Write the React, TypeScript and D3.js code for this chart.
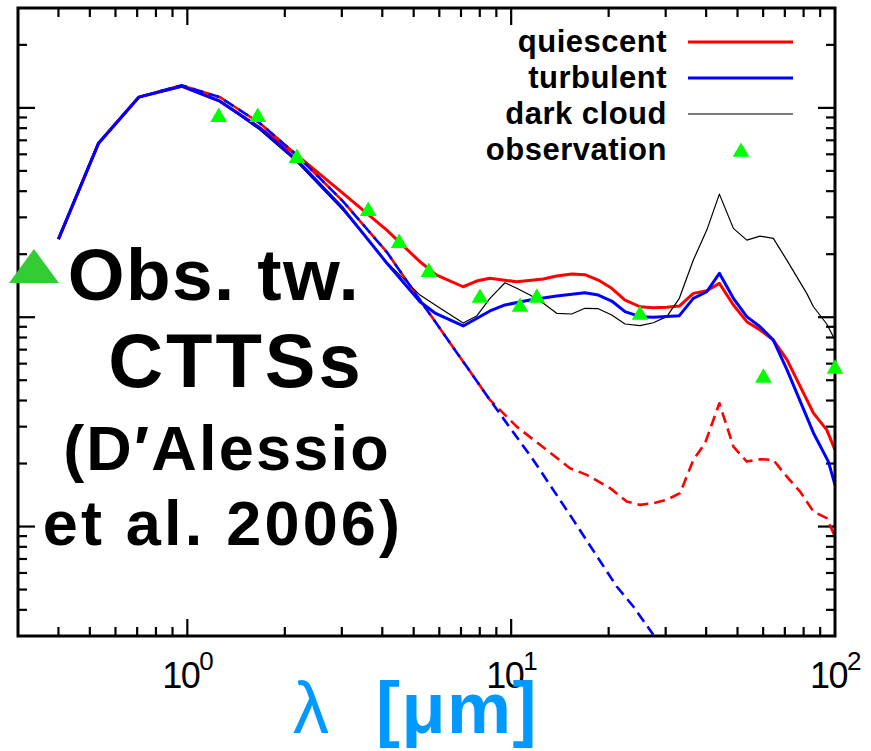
import * as d3 from 'd3';

const width = 871;
const height = 751;

// plot frame (pixels)
const left = 18;
const right = 835;
const top = 8;
const bottom = 636;

// wavelength [micron] and lambda*F_lambda (arbitrary units, major ticks at 0.01, 0.1, 1)
const lamQuiescent = [0.4, 0.532, 0.708, 0.96, 1.26, 1.65, 2.18, 3.02, 4.13, 5.23, 5.89, 7.11, 7.82, 8.6, 10.4, 12.57, 13.82, 15.38, 16.9, 18.58, 20.44, 22.47, 25.0, 27.48, 30.23, 33.06, 36.52, 40.18, 43.95, 48.56, 53.41, 58.7, 64.5, 71.1, 85.8, 94.3, 100];
const fluxQuiescent = [0.2362, 0.6785, 1.125, 1.269, 1.076, 0.818, 0.5944, 0.3916, 0.2607, 0.184, 0.159, 0.1398, 0.1489, 0.1534, 0.1477, 0.1522, 0.1573, 0.1608, 0.1596, 0.1505, 0.1374, 0.1208, 0.1122, 0.111, 0.1115, 0.1131, 0.13, 0.1338, 0.1451, 0.1144, 0.0952, 0.0869, 0.0778, 0.0625, 0.0348, 0.02894, 0.02323];

const lamTurbulent = [0.4, 0.532, 0.708, 0.96, 1.26, 1.675, 2.18, 3.02, 4.13, 5.23, 5.82, 7.11, 8.6, 9.57, 11.43, 13.82, 16.9, 18.58, 20.44, 22.47, 25.0, 27.48, 33.06, 36.52, 40.18, 43.95, 48.56, 53.41, 58.7, 64.5, 71.1, 85.8, 95.4, 100];
const fluxTurbulent = [0.2362, 0.6785, 1.125, 1.269, 1.076, 0.8, 0.5628, 0.332, 0.1814, 0.1186, 0.1047, 0.0908, 0.1071, 0.1144, 0.1208, 0.1262, 0.1309, 0.1276, 0.1195, 0.1063, 0.1006, 0.0999, 0.1017, 0.1231, 0.1323, 0.162, 0.1231, 0.1006, 0.0901, 0.0778, 0.056, 0.028, 0.02043, 0.01581];

const lamDark = [0.4, 0.532, 0.708, 0.96, 1.26, 1.675, 2.18, 3.02, 4.13, 5.23, 5.89, 7.11, 7.82, 8.6, 9.57, 10.4, 11.43, 12.57, 13.82, 15.38, 16.9, 18.58, 20.44, 22.47, 25.0, 27.48, 30.23, 33.06, 36.52, 40.18, 43.95, 48.56, 53.41, 58.7, 64.5, 71.0, 81.8, 85.8, 94.3, 100];
const fluxDark = [0.2362, 0.6785, 1.125, 1.269, 1.076, 0.783, 0.5505, 0.3248, 0.1834, 0.1276, 0.1131, 0.0938, 0.1013, 0.1231, 0.1461, 0.1374, 0.1276, 0.1165, 0.1044, 0.1036, 0.1103, 0.1098, 0.1024, 0.0928, 0.0911, 0.0941, 0.1006, 0.1231, 0.1875, 0.2607, 0.3873, 0.2657, 0.2336, 0.2441, 0.2379, 0.1875, 0.13, 0.1122, 0.0928, 0.0778];

// dashed curves: blue one falls off like a bare photosphere, red one keeps an IR excess
const lamStarDash = [0.4, 0.532, 0.708, 0.96, 1.26, 1.675, 2.18, 3.02, 4.13, 5.23, 8.6, 11.7, 15.55, 21.18, 23.84, 27.48];
const fluxStarDash = [0.2362, 0.6785, 1.125, 1.283, 1.125, 0.845, 0.5944, 0.3587, 0.2048, 0.1208, 0.04025, 0.02081, 0.01076, 0.005171, 0.004149, 0.00304];

const lamQuiescentDash = [0.4, 0.532, 0.708, 0.96, 1.26, 1.675, 2.18, 3.02, 4.13, 5.23, 8.6, 10.4, 15.19, 17.11, 20.2, 22.74, 25.0, 27.48, 30.23, 33.22, 36.52, 39.7, 43.95, 48.56, 53.41, 58.7, 64.5, 71.0, 78.0, 85.8, 94.3, 100];
const fluxQuiescentDash = [0.2362, 0.6785, 1.125, 1.283, 1.125, 0.845, 0.5944, 0.3587, 0.2048, 0.1208, 0.04025, 0.03002, 0.019, 0.01765, 0.01526, 0.01316, 0.01269, 0.01293, 0.01341, 0.01443, 0.02081, 0.02501, 0.03882, 0.02409, 0.02043, 0.02098, 0.02081, 0.01733, 0.01469, 0.01179, 0.01096, 0.00896];

const lamObs = [1.25, 1.65, 2.18, 3.62, 4.51, 5.57, 8.01, 10.65, 12.0, 25.0, 60.1, 100];
const fluxObs = [0.903, 0.903, 0.5753, 0.3212, 0.226, 0.1643, 0.1235, 0.1119, 0.1235, 0.1024, 0.0513, 0.0566];

const legendLabels = ['quiescent', 'turbulent', 'dark cloud', 'observation'];
const xTickLabels = [{ v: 1, exp: '0' }, { v: 10, exp: '1' }, { v: 100, exp: '2' }];
const noteLines = ['Obs. tw.', 'CTTSs', '(D\u2032Alessio', 'et al. 2006)'];

const font = '"Liberation Sans", Arial, Helvetica, sans-serif';

const x = d3.scaleLog().domain([0.3, 100]).range([left, right]);
const y = d3.scaleLog().domain([0.003, 3]).range([bottom, top]);

const toPts = (lam: number[], f: number[]) => lam.map((l, i) => [l, f[i]] as [number, number]);
const line = d3.line<[number, number]>().x(d => x(d[0])).y(d => y(d[1]));

const tri = d3.symbol().type(d3.symbolTriangle).size(120)();

const isMajor = (v: number) => Math.abs(Math.log10(v) - Math.round(Math.log10(v))) < 1e-6;

const App = () => {
  const xt = x.ticks().filter(v => x(v) > left + 1 && x(v) < right - 1);
  const yt = y.ticks().filter(v => y(v) > top + 1 && y(v) < bottom - 1);

  // drawing order: red under black under blue; red dashes sit in the blue gaps where they coincide
  const series = [
    { pts: toPts(lamQuiescentDash, fluxQuiescentDash), color: '#ff0000', w: 2.6, dash: '11,6', off: 8.5 },
    { pts: toPts(lamQuiescent, fluxQuiescent), color: '#ff0000', w: 3, dash: null, off: 0 },
    { pts: toPts(lamDark, fluxDark), color: '#000000', w: 1.2, dash: null, off: 0 },
    { pts: toPts(lamTurbulent, fluxTurbulent), color: '#0000ff', w: 3, dash: null, off: 0 },
    { pts: toPts(lamStarDash, fluxStarDash), color: '#0000ff', w: 2.6, dash: '11,6', off: 0 },
  ];

  const legendStyle = [
    { color: '#ff0000', w: 3 },
    { color: '#0000ff', w: 3 },
    { color: '#7a7a7a', w: 2 },
  ];

  return (
    <svg width={width} height={height} style={{ position: 'absolute', left: 0, top: 0, background: '#fff' }} fontFamily={font}>
      <defs>
        <clipPath id="plot">
          <rect x={left} y={top} width={right - left} height={bottom - top} />
        </clipPath>
      </defs>

      {/* ticks, inward on all four sides */}
      <g stroke="#000" strokeWidth={2.2}>
        {xt.map((v, i) => {
          const len = isMajor(v) ? 17 : 9;
          return (
            <g key={'x' + i}>
              <line x1={x(v)} x2={x(v)} y1={bottom} y2={bottom - len} />
              <line x1={x(v)} x2={x(v)} y1={top} y2={top + len} />
            </g>
          );
        })}
        {yt.map((v, i) => {
          const len = isMajor(v) ? 17 : 9;
          return (
            <g key={'y' + i}>
              <line x1={left} x2={left + len} y1={y(v)} y2={y(v)} />
              <line x1={right} x2={right - len} y1={y(v)} y2={y(v)} />
            </g>
          );
        })}
      </g>

      <g clipPath="url(#plot)" fill="none" strokeLinejoin="round">
        {series.map((s, i) => (
          <path key={i} d={line(s.pts) || ''} stroke={s.color} strokeWidth={s.w}
            strokeDasharray={s.dash || undefined} strokeDashoffset={s.off || undefined} />
        ))}
      </g>

      <rect x={left} y={top} width={right - left} height={bottom - top} fill="none" stroke="#000" strokeWidth={3} />

      {lamObs.map((l, i) => (
        <path key={i} d={tri || ''} transform={`translate(${x(l)},${y(fluxObs[i])})`} fill="#00ff00" />
      ))}

      {/* x tick labels */}
      {xTickLabels.map(t => (
        <text key={t.v} x={x(t.v)} y={688} textAnchor="middle" fontSize={36} letterSpacing={-1.5}>
          10<tspan dy={-18} fontSize={26}>{t.exp}</tspan>
        </text>
      ))}

      {/* axis title */}
      <text y={733} fill="#0099ff" fontSize={72}>
        <tspan x={293}>λ</tspan>
        <tspan x={376} fontWeight="bold" letterSpacing={1.5}>[μm]</tspan>
      </text>

      {/* legend */}
      <g fontSize={31} fontWeight="bold" textAnchor="end">
        {legendLabels.map((lab, i) => (
          <text key={lab} x={667} y={52 + i * 36} letterSpacing={0.5}>{lab}</text>
        ))}
        {legendStyle.map((s, i) => (
          <line key={i} x1={688} x2={793} y1={42 + i * 36} y2={42 + i * 36} stroke={s.color} strokeWidth={s.w} />
        ))}
        <path d={tri || ''} transform={`translate(741,${42 + 3 * 36 + 2})`} fill="#00ff00" />
      </g>

      {/* note */}
      <polygon points="9,283 59,283 34,249" fill="#33cc33" />
      <g fontWeight="bold" textAnchor="middle" fill="#000">
        <text x={214} y={300} fontSize={73} letterSpacing={1.4}>{noteLines[0]}</text>
        <text x={236} y={387} fontSize={76} letterSpacing={3}>{noteLines[1]}</text>
        <text x={227} y={470} fontSize={63} letterSpacing={2.2}>{noteLines[2]}</text>
        <text x={223} y={545} fontSize={63} letterSpacing={3.2}>{noteLines[3]}</text>
      </g>
    </svg>
  );
};

export default App;
